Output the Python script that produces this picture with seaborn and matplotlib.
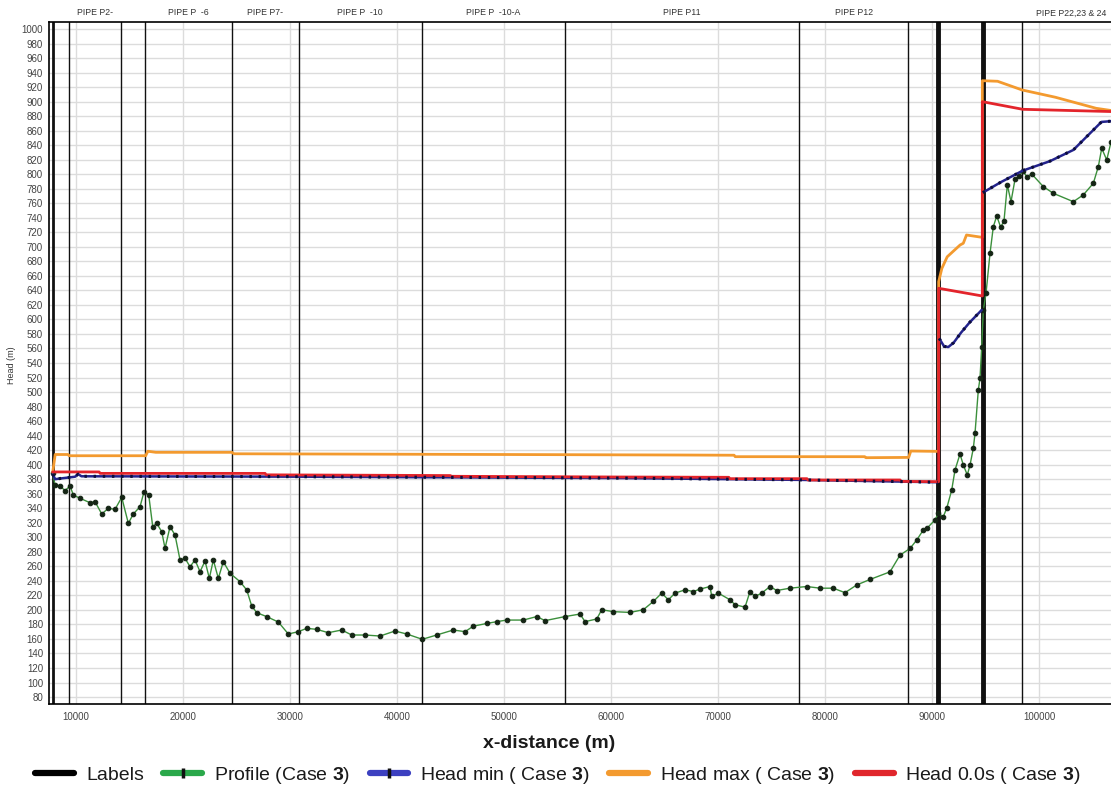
import matplotlib
matplotlib.use("Agg")
import matplotlib.pyplot as plt
import seaborn as sns
from matplotlib.lines import Line2D
from matplotlib.ticker import MultipleLocator
import matplotlib.transforms as mtransforms

# ---------------- data ----------------
profile_x = [7870, 8086, 8553, 9020, 9486, 9795, 10420, 11354, 11821, 12447, 13063, 13689,
             14314, 14931, 15397, 16023, 16397, 16835, 17209, 17582, 18049, 18358, 18824,
             19291, 19758, 20225, 20692, 21159, 21626, 22093, 22494, 22868, 23335, 23802,
             24427, 25361, 25987, 26454, 26921, 27854, 28937, 29871, 30805, 31589, 32523,
             33606, 34857, 35792, 37034, 38434, 39835, 40928, 42384, 43729, 45279, 46372,
             47147, 48398, 49332, 50266, 51816, 53067, 53842, 55710, 57111, 57578, 58670,
             59137, 60220, 61779, 63021, 63955, 64739, 65356, 65981, 66915, 67690, 68316,
             69250, 69408, 70024, 71117, 71584, 72518, 72985, 73452, 74077, 74852, 75478,
             76719, 78278, 79520, 80762, 81855, 82947, 84188, 86056, 86990, 87924, 88550,
             89166, 89484, 90259, 90567, 91034, 91352, 91819, 92127, 92594, 92902, 93276,
             93528, 93836, 93995, 94303, 94462, 94621, 94771, 95023, 95396, 95705, 96022,
             96396, 96704, 97012, 97357, 97731, 98133, 98451, 98824, 99291, 100374, 101308,
             103175, 104109, 105043, 105510, 105828, 106295, 106700]
profile_y = [388.0, 372.0, 370.6, 364.2, 370.6, 358.2, 353.7, 347.6, 349.0, 332.1, 339.9, 338.5,
             355.0, 319.2, 332.1, 342.1, 362.8, 358.2, 314.6, 319.2, 307.7, 284.8, 314.6,
             303.1, 268.7, 271.0, 259.5, 268.7, 252.6, 267.3, 243.5, 268.7, 243.5, 266.4,
             250.4, 238.9, 227.4, 205.3, 196.2, 190.7, 183.3, 166.8, 170.0, 174.6, 173.2,
             168.6, 172.3, 165.4, 165.4, 164.0, 170.9, 166.8, 159.5, 165.4, 172.3, 170.0,
             177.6, 181.3, 183.8, 186.0, 186.0, 190.8, 185.2, 190.8, 194.3, 183.8, 187.5,
             200.2, 197.6, 196.5, 200.2, 211.6, 223.1, 213.9, 223.1, 227.6, 225.3, 228.6,
             232.2, 218.5, 223.1, 213.9, 207.1, 203.8, 225.3, 218.5, 223.1, 232.2, 226.7,
             229.9, 232.2, 229.9, 229.9, 223.7, 234.3, 241.9, 252.4, 275.4, 284.6, 296.2,
             310.0, 312.1, 323.8, 333.0, 328.4, 339.9, 365.1, 392.6, 414.7, 399.5, 385.8,
             399.5, 422.5, 443.1, 502.8, 518.9, 562.5, 613.0, 636.0, 691.0, 727.7, 742.5,
             726.9, 736.0, 785.2, 762.2, 793.0, 797.5, 804.9, 796.6, 800.3, 782.9, 773.7,
             762.2, 771.5, 787.5, 810.5, 835.7, 819.6, 844.8]

# Head min, in three pieces (discontinuous at the two valves)
headmin_x1 = [7870, 8100, 8600, 9950, 10250, 10550, 30000, 61000, 78000, 90500]
headmin_y1 = [387.0, 380.0, 381.0, 383.4, 387.0, 384.0, 383.5, 381.5, 379.0, 375.8]
headmin_x2 = [90650, 91100, 91500, 92000, 92700, 93500, 94620]
headmin_y2 = [574.0, 563.0, 562.0, 568.0, 582.0, 596.0, 613.0]
headmin_x3 = [94720, 96400, 98450, 101000, 103175, 105800, 107500]
headmin_y3 = [774.6, 789.0, 804.9, 818.0, 833.4, 872.0, 874.0]

headmax_x = [7870, 8100, 9300, 9400, 16550, 16750, 17500, 24600, 24800, 45000, 66400, 71500,
             71600, 83700, 83800, 87800, 88000, 89500, 90600, 90600, 90900, 91400, 92600,
             92900, 93200, 94600, 94680, 94680, 96100, 98400, 101500, 105300, 107500]
headmax_y = [390.0, 414.0, 414.0, 412.3, 412.3, 418.5, 417.0, 417.0, 415.0, 414.2, 413.3, 413.0,
             411.0, 411.0, 409.6, 410.0, 418.8, 418.5, 418.3, 652.0, 670.3, 686.3, 702.5,
             704.9, 716.3, 713.2, 713.2, 928.8, 928.0, 916.0, 906.0, 890.8, 886.0]

head0_x = [7870, 12200, 12300, 27700, 27800, 45000, 45100, 61000, 71000, 71100, 78300, 78400,
           87000, 87100, 90600, 90600, 94680, 94680, 98450, 107500]
head0_y = [390.0, 390.0, 388.0, 388.0, 386.0, 385.0, 384.0, 383.0, 382.6, 380.7, 380.7, 378.9,
           378.9, 377.0, 376.6, 642.9, 632.3, 899.9, 889.4, 886.0]

label_x = [7870, 9421, 14277, 16527, 24595, 30833, 42310, 55710, 77588, 87757, 90540, 94700, 98421]
valve_x = [90540, 94700]

pipe_names = ["PIPE P2-", "PIPE P  -6", "PIPE P7-", "PIPE P  -10", "PIPE P  -10-A",
              "PIPE P11", "PIPE P12", "PIPE P22,23 & 24"]
pipe_start = [9421, 16527, 24595, 30833, 42310, 55710, 77588, 98421]
pipe_end = [14277, 24595, 30833, 42310, 55710, 77588, 87757, 107500]

x_ticks = [10000, 20000, 30000, 40000, 50000, 60000, 70000, 80000, 90000, 100000]
y_ticks = list(range(80, 1001, 20))

legend_labels = ["Labels", r"Profile (Case $\mathbf{3}$)", r"Head min ( Case $\mathbf{3}$)",
                 r"Head max ( Case $\mathbf{3}$)", r"Head 0.0s ( Case $\mathbf{3}$)"]

# ---------------- style ----------------
sns.set_theme(style="white")
plt.rcParams['font.family'] = ['Liberation Sans', 'DejaVu Sans']
plt.rcParams['mathtext.fontset'] = 'custom'
plt.rcParams['mathtext.rm'] = 'Liberation Sans'
plt.rcParams['mathtext.bf'] = 'Liberation Sans:bold'

C_GREEN = '#3b8f3b'
C_MARK = '#142414'
C_NAVY = '#23238c'
C_DOT = '#0d0d3a'
C_ORANGE = '#f39a2f'
C_RED = '#e3242b'

fig = plt.figure(figsize=(11.11, 7.88), dpi=100)
ax = fig.add_axes([0.04437, 0.1066, 0.9634, 0.8661])

ax.set_xlim(7550, 107500)
ax.set_ylim(70.4, 1010.3)

ax.set_xticks(x_ticks)
ax.set_yticks(y_ticks)
ax.xaxis.set_minor_locator(MultipleLocator(2500))
ax.yaxis.set_minor_locator(MultipleLocator(5))
ax.grid(True, which='major', color='#dcdcdc', lw=1.0, zorder=0)
ax.set_axisbelow(True)
ax.tick_params(axis='both', which='major', direction='out', length=3, width=0.8,
               labelsize=7, labelcolor='#444444', color='#333333', pad=1.5)
ax.tick_params(axis='both', which='minor', direction='out', length=2, width=0.6, color='#555555')
ax.tick_params(axis='x', which='major', pad=3)
for s in ax.spines.values():
    s.set_color('black')
    s.set_linewidth(1.2)

# label lines
for xv in label_x:
    if xv in valve_x:
        lw = 3.5
    elif xv == label_x[0]:
        lw = 2.0
    else:
        lw = 1.0
    ax.axvline(xv, color='#111111', lw=lw, zorder=1.5)

# pipe names above plot
trans = mtransforms.blended_transform_factory(ax.transData, ax.transAxes)
for name, a, b in zip(pipe_names, pipe_start, pipe_end):
    ax.text((a + b) / 2, 1.0125, name, transform=trans, ha='center', va='center',
            fontsize=6.3, color='#333333', clip_on=False)

# series
sns.lineplot(x=profile_x, y=profile_y, ax=ax, estimator=None, sort=False, color=C_GREEN,
             lw=1.0, marker='o', markersize=3.3, markerfacecolor=C_MARK,
             markeredgecolor=C_MARK, zorder=2.5)
for hx, hy in [(headmin_x1, headmin_y1), (headmin_x2, headmin_y2), (headmin_x3, headmin_y3)]:
    sns.lineplot(x=hx, y=hy, ax=ax, estimator=None, sort=False, color=C_NAVY, lw=1.8, zorder=3)
sns.lineplot(x=headmax_x, y=headmax_y, ax=ax, estimator=None, sort=False, color=C_ORANGE,
             lw=2.0, zorder=3.2)
sns.lineplot(x=head0_x, y=head0_y, ax=ax, estimator=None, sort=False, color=C_RED,
             lw=2.0, zorder=3.4)
for hx, hy in [(headmin_x1, headmin_y1), (headmin_x2, headmin_y2), (headmin_x3, headmin_y3)]:
    sns.lineplot(x=hx, y=hy, ax=ax, estimator=None, sort=False, color=C_DOT, lw=2.2,
                 linestyle=(0, (0.8, 2.2)), zorder=3.6)

ax.set_xlabel('')
ax.set_ylabel('')

fig.text(12 / 1111, 1 - 365 / 788, 'Head (m)', rotation=90, fontsize=6.5,
         ha='center', va='center', color='#333333')
fig.text(549 / 1111, 1 - 743 / 788, 'x-distance (m)', ha='center', va='center',
         fontsize=14, fontweight='bold', color='#1a1a1a')

handles = [
    Line2D([], [], color='black', lw=4.5),
    Line2D([], [], color='#2aa84a', lw=4.5, marker='|', ms=7, mew=2.5, mec='#111111'),
    Line2D([], [], color='#3c40c0', lw=4.5, marker='|', ms=7, mew=2.5, mec='#111111'),
    Line2D([], [], color='#f39a2f', lw=4.5),
    Line2D([], [], color='#e0262c', lw=4.5),
]
leg = fig.legend(handles, legend_labels, loc='center', bbox_to_anchor=(558 / 1111, 1 - 775 / 788),
                 ncol=5, frameon=False, handlelength=2.0, handletextpad=0.6, columnspacing=1.0,
                 numpoints=1, prop={'size': 14})
for t in leg.get_texts():
    t.set_color('#1a1a1a')

fig.savefig('out.png', dpi=100)
